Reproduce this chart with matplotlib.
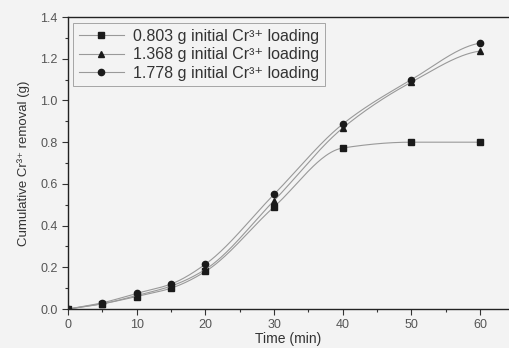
import numpy as np
import matplotlib
matplotlib.use("Agg")
import matplotlib.pyplot as plt
from matplotlib.ticker import MultipleLocator

plt.rcParams["font.family"] = ["Liberation Sans", "DejaVu Sans"]

# data
time_min = [0, 5, 10, 15, 20, 30, 40, 50, 60]
removal_0803 = [0.0, 0.025, 0.060, 0.100, 0.180, 0.490, 0.772, 0.800, 0.800]
removal_1368 = [0.0, 0.025, 0.065, 0.110, 0.190, 0.520, 0.868, 1.088, 1.237]
removal_1778 = [0.0, 0.030, 0.075, 0.120, 0.215, 0.550, 0.887, 1.100, 1.275]
labels = ["0.803 g initial Cr³⁺ loading",
          "1.368 g initial Cr³⁺ loading",
          "1.778 g initial Cr³⁺ loading"]
markers = ["s", "^", "o"]


def pchip(x, y, xs):
    # monotone cubic hermite, only used to draw a smooth line through the points
    x = np.asarray(x, float)
    y = np.asarray(y, float)
    h = np.diff(x)
    d = np.diff(y) / h
    m = np.zeros_like(y)
    for k in range(1, len(x) - 1):
        if d[k - 1] * d[k] > 0:
            w1 = 2 * h[k] + h[k - 1]
            w2 = h[k] + 2 * h[k - 1]
            m[k] = (w1 + w2) / (w1 / d[k - 1] + w2 / d[k])
    m[0] = d[0]
    m[-1] = d[-1] * 0.3
    idx = np.clip(np.searchsorted(x, xs) - 1, 0, len(h) - 1)
    t = (xs - x[idx]) / h[idx]
    h00 = 2 * t**3 - 3 * t**2 + 1
    h10 = t**3 - 2 * t**2 + t
    h01 = -2 * t**3 + 3 * t**2
    h11 = t**3 - t**2
    return (h00 * y[idx] + h10 * h[idx] * m[idx]
            + h01 * y[idx + 1] + h11 * h[idx] * m[idx + 1])


bg = "#f3f3f3"
fig = plt.figure(figsize=(5.09, 3.48), dpi=100, facecolor=bg)
ax = fig.add_axes([0.1336, 0.112, 0.8664, 0.839], facecolor=bg)

xs = np.linspace(0, 60, 300)
for ys, mk, lab in zip([removal_0803, removal_1368, removal_1778], markers, labels):
    ax.plot(xs, pchip(time_min, ys, xs), color="#999999", lw=0.8)
    ax.plot(time_min, ys, linestyle="none", marker=mk, ms=4.5, color="#1a1a1a")
    ax.plot([], [], color="#999999", lw=0.8, marker=mk, ms=4.5,
            mfc="#1a1a1a", mec="#1a1a1a", label=lab)

ax.set_xlim(0, 64.2)
ax.set_ylim(0, 1.4)
ax.xaxis.set_major_locator(MultipleLocator(10))
ax.xaxis.set_minor_locator(MultipleLocator(5))
ax.yaxis.set_major_locator(MultipleLocator(0.2))
ax.yaxis.set_minor_locator(MultipleLocator(0.1))
ax.yaxis.set_major_formatter(matplotlib.ticker.FormatStrFormatter("%.1f"))
ax.tick_params(which="major", direction="out", length=4, width=0.8,
               labelsize=9, labelcolor="#555555", color="#333333")
ax.tick_params(which="minor", direction="out", length=2.5, width=0.8,
               color="#333333")
for side in ["left", "bottom", "top"]:
    ax.spines[side].set_color("#222222")
    ax.spines[side].set_linewidth(1.0)
ax.spines["right"].set_visible(False)

ax.set_xlabel("Time (min)", fontsize=10, color="#333333", labelpad=0.5)
ax.set_ylabel("Cumulative Cr³⁺ removal (g)", fontsize=9.5,
              color="#333333", labelpad=7)

leg = ax.legend(loc="upper left", bbox_to_anchor=(0.005, 0.99), fontsize=11.5,
                frameon=True, fancybox=False, edgecolor="#999999",
                facecolor=bg, framealpha=1, handlelength=2.8,
                borderpad=0.35, labelspacing=0.22, handletextpad=0.6,
                borderaxespad=0.2)
leg.get_frame().set_linewidth(0.6)
for t in leg.get_texts():
    t.set_color("#333333")

fig.savefig("out.png", dpi=100, facecolor=bg)
